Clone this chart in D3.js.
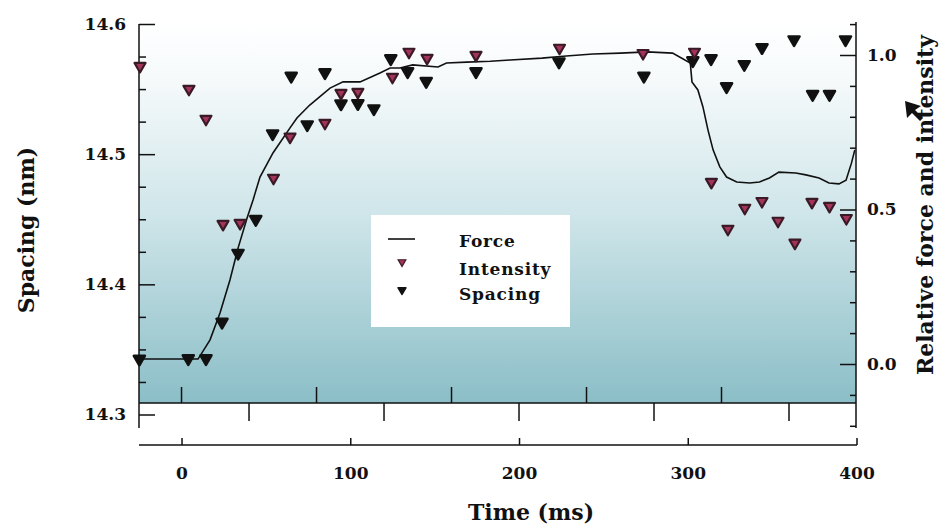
<!DOCTYPE html>
<html>
<head>
<meta charset="utf-8">
<script src="https://cdn.jsdelivr.net/npm/d3@7"></script>
<style>
  body { margin: 0; background: #fff; }
  text { font-family: "DejaVu Serif", serif; font-weight: bold; fill: #111; }
</style>
</head>
<body>
<svg width="942" height="525"></svg>
<script>
// force trace (relative units, right axis)
const forceT = [-25, 9.8, 16.9, 22.8, 28.7, 33.5, 38.8, 42.4, 46.5, 54.2, 64.3, 68.4, 76, 88, 95.7, 105.8, 117.6, 123.6,
                129.5, 137, 152, 157, 169, 183, 194.7, 213.6, 228, 243.8, 260, 276, 291, 301.5, 302.5, 306, 309, 312,
                315, 319, 323, 329, 336.7, 342.5, 348.4, 354, 364, 370, 377.8, 383.7, 389.6, 393.8, 397, 399];
const forceV = [0.016, 0.016, 0.078, 0.165, 0.272, 0.375, 0.472, 0.531, 0.605, 0.683, 0.764, 0.796, 0.838, 0.893, 0.913, 0.913, 0.942, 0.958,
                0.958, 0.968, 0.961, 0.974, 0.977, 0.98, 0.984, 0.99, 0.997, 1.003, 1.006, 1.01, 1.006, 0.974, 0.913, 0.887, 0.832, 0.757,
                0.693, 0.638, 0.605, 0.589, 0.586, 0.589, 0.602, 0.621, 0.618, 0.612, 0.602, 0.586, 0.583, 0.595, 0.65, 0.693];

// X-ray intensity (relative, right axis)
const intensityT = [-24.6, 4.4, 14.5, 24.6, 34.7, 54.5, 64.3, 85, 94.5, 104.5, 125, 134.8, 145.5, 174.5, 224, 273.5,
                    304, 314, 323.8, 333.8, 344, 353.5, 363.5, 373.6, 384, 394];
const intensityV = [0.964, 0.89, 0.793, 0.453, 0.456, 0.602, 0.735, 0.78, 0.877, 0.88, 0.929, 1.01, 0.99, 1.0, 1.023, 1.006,
                    1.01, 0.589, 0.437, 0.505, 0.527, 0.463, 0.392, 0.524, 0.511, 0.472];

// spacing (nm, left axis)
const spacingT = [-25, 4, 14.5, 24, 33.5, 44, 54, 65, 74.5, 85, 94.5, 104.5, 114, 124, 134, 145, 174.5, 223.7, 274,
                  303, 313.8, 323, 333.5, 344, 363, 374, 384, 393.5];
const spacingV = [14.3427, 14.343, 14.343, 14.371, 14.424, 14.45, 14.5158, 14.56, 14.5227, 14.5627, 14.5388, 14.539, 14.535,
                  14.5735, 14.5635, 14.556, 14.5635, 14.571, 14.56, 14.572, 14.5735, 14.552, 14.569, 14.582, 14.588, 14.546,
                  14.546, 14.588];

const timeTicks = [0, 100, 200, 300, 400];
const frameTicks = [0, 40, 80, 120, 160, 200, 240, 280, 320, 360];
const spacingTicks = [14.3, 14.4, 14.5, 14.6];
const relTicks = [0.0, 0.5, 1.0];

const svg = d3.select("svg");

const x = d3.scaleLinear().domain([-25.2, 400]).range([139, 856.5]);
const yL = d3.scaleLinear().domain([14.3, 14.6]).range([414.5, 24]);
const yR = d3.scaleLinear().domain([0, 1]).range([364, 55]);

const plotTop = 20, plotBottom = 403, plotLeft = 139, plotRight = 856;

// background gradient
const grad = svg.append("defs").append("linearGradient")
   .attr("id", "bg").attr("x1", 0).attr("y1", 0).attr("x2", 0).attr("y2", 1);
grad.append("stop").attr("offset", "0%").attr("stop-color", "#ffffff");
grad.append("stop").attr("offset", "15%").attr("stop-color", "#f6fafb");
grad.append("stop").attr("offset", "50%").attr("stop-color", "#d0e6ea");
grad.append("stop").attr("offset", "100%").attr("stop-color", "#8bbec7");

svg.append("rect")
   .attr("x", plotLeft).attr("y", plotTop)
   .attr("width", plotRight - plotLeft).attr("height", plotBottom - plotTop)
   .attr("fill", "url(#bg)");

// plot bottom edge with alternating ticks
svg.append("line")
   .attr("x1", plotLeft).attr("x2", plotRight).attr("y1", plotBottom).attr("y2", plotBottom)
   .attr("stroke", "#111").attr("stroke-width", 1.5);
svg.selectAll(".ftick")
   .data(frameTicks)
   .enter().append("line")
   .attr("class", "ftick")
   .attr("x1", d => x(d)).attr("x2", d => x(d))
   .attr("y1", plotBottom)
   .attr("y2", (d, i) => i % 2 === 0 ? plotBottom - 16 : plotBottom + 18)
   .attr("stroke", "#111").attr("stroke-width", 1.5);

// left axis (spacing)
const axisStyle = g => {
  g.select(".domain").remove();
  g.selectAll("line").attr("stroke", "#111").attr("stroke-width", 1.5);
  g.selectAll("text").attr("font-size", 17).attr("fill", "#111");
};
const minorL = d3.range(14.3, 14.6001, 0.025).filter(v => Math.abs(v * 10 - Math.round(v * 10)) > 0.01);
svg.append("g")
   .attr("transform", `translate(${plotLeft},0)`)
   .call(d3.axisLeft(yL).tickValues(minorL).tickSize(-7).tickFormat(""))
   .call(axisStyle);
svg.append("g")
   .attr("transform", `translate(${plotLeft},0)`)
   .call(d3.axisLeft(yL).tickValues(spacingTicks).tickSize(-16).tickPadding(13).tickFormat(d3.format(".1f")))
   .call(axisStyle);
svg.append("line")
   .attr("x1", plotLeft).attr("x2", plotLeft).attr("y1", 24).attr("y2", 428)
   .attr("stroke", "#111").attr("stroke-width", 1.5);

// right axis (relative force and intensity)
const minorR = d3.range(-2, 12).map(d => d / 10).filter(v => !relTicks.includes(v));
svg.append("g")
   .attr("transform", `translate(${plotRight},0)`)
   .call(d3.axisRight(yR).tickValues(minorR).tickSize(-6).tickFormat(""))
   .call(axisStyle);
svg.append("g")
   .attr("transform", `translate(${plotRight},0)`)
   .call(d3.axisRight(yR).tickValues(relTicks).tickSize(-16).tickPadding(11).tickFormat(d3.format(".1f")))
   .call(axisStyle);
svg.append("line")
   .attr("x1", plotRight).attr("x2", plotRight).attr("y1", 22).attr("y2", 428)
   .attr("stroke", "#111").attr("stroke-width", 1.5);

// time axis
svg.append("g")
   .attr("transform", "translate(0,445)")
   .call(d3.axisBottom(x).tickValues(timeTicks).tickSize(-7).tickPadding(22))
   .call(axisStyle);
svg.append("line")
   .attr("x1", plotLeft).attr("x2", 857).attr("y1", 445).attr("y2", 445)
   .attr("stroke", "#111").attr("stroke-width", 1.5);

// force line
const forceData = forceT.map((t, i) => [t, forceV[i]]);
svg.append("path")
   .datum(forceData)
   .attr("fill", "none")
   .attr("stroke", "#111")
   .attr("stroke-width", 1.6)
   .attr("d", d3.line().x(d => x(d[0])).y(d => yR(d[1])));

// markers
const marker = d3.symbol().type(d3.symbolTriangle).size(52);
svg.selectAll(".sp")
   .data(spacingT.map((t, i) => [t, spacingV[i]]))
   .enter().append("path")
   .attr("class", "sp")
   .attr("d", marker)
   .attr("transform", d => `translate(${x(d[0])},${yL(d[1])}) rotate(180)`)
   .attr("fill", "#111").attr("stroke", "#111")
   .attr("stroke-width", 2.6).attr("stroke-linejoin", "round");

svg.selectAll(".in")
   .data(intensityT.map((t, i) => [t, intensityV[i]]))
   .enter().append("path")
   .attr("class", "in")
   .attr("d", marker)
   .attr("transform", d => `translate(${x(d[0])},${yR(d[1])}) rotate(180)`)
   .attr("fill", "#a3335a").attr("stroke", "#3a1a24")
   .attr("stroke-width", 2.2).attr("stroke-linejoin", "round");

// legend
const lg = svg.append("g");
lg.append("rect").attr("x", 371).attr("y", 215).attr("width", 199).attr("height", 112).attr("fill", "#fff");
lg.append("line").attr("x1", 388).attr("x2", 415).attr("y1", 239).attr("y2", 239)
  .attr("stroke", "#111").attr("stroke-width", 1.6);
const legendMarker = d3.symbol().type(d3.symbolTriangle).size(26);
lg.append("path").attr("d", legendMarker)
  .attr("transform", "translate(402,262) rotate(180)")
  .attr("fill", "#a3335a").attr("stroke", "#3a1a24").attr("stroke-width", 1.2);
lg.append("path").attr("d", legendMarker)
  .attr("transform", "translate(402,290) rotate(180)")
  .attr("fill", "#111").attr("stroke", "#111").attr("stroke-width", 1.6).attr("stroke-linejoin", "round");
lg.selectAll("text")
  .data([["Force", 247], ["Intensity", 275], ["Spacing", 300]])
  .enter().append("text")
  .attr("x", 459).attr("y", d => d[1])
  .attr("font-size", 17).attr("letter-spacing", 0.8)
  .text(d => d[0]);

// axis titles
svg.append("text")
   .attr("x", 531).attr("y", 520)
   .attr("text-anchor", "middle").attr("font-size", 22)
   .text("Time (ms)");
svg.append("text")
   .attr("transform", "translate(34,230) rotate(-90)")
   .attr("text-anchor", "middle").attr("font-size", 22)
   .text("Spacing (nm)");
svg.append("text")
   .attr("transform", "translate(933,205) rotate(-90)")
   .attr("text-anchor", "middle").attr("font-size", 22)
   .text("Relative force and intensity");

// stray cursor arrow in the picture
svg.append("path")
   .attr("d", "M905,101 L907,118 L912,113 L920,121 L923,118 L915,110 L921,106 Z")
   .attr("fill", "#111");
</script>
</body>
</html>
